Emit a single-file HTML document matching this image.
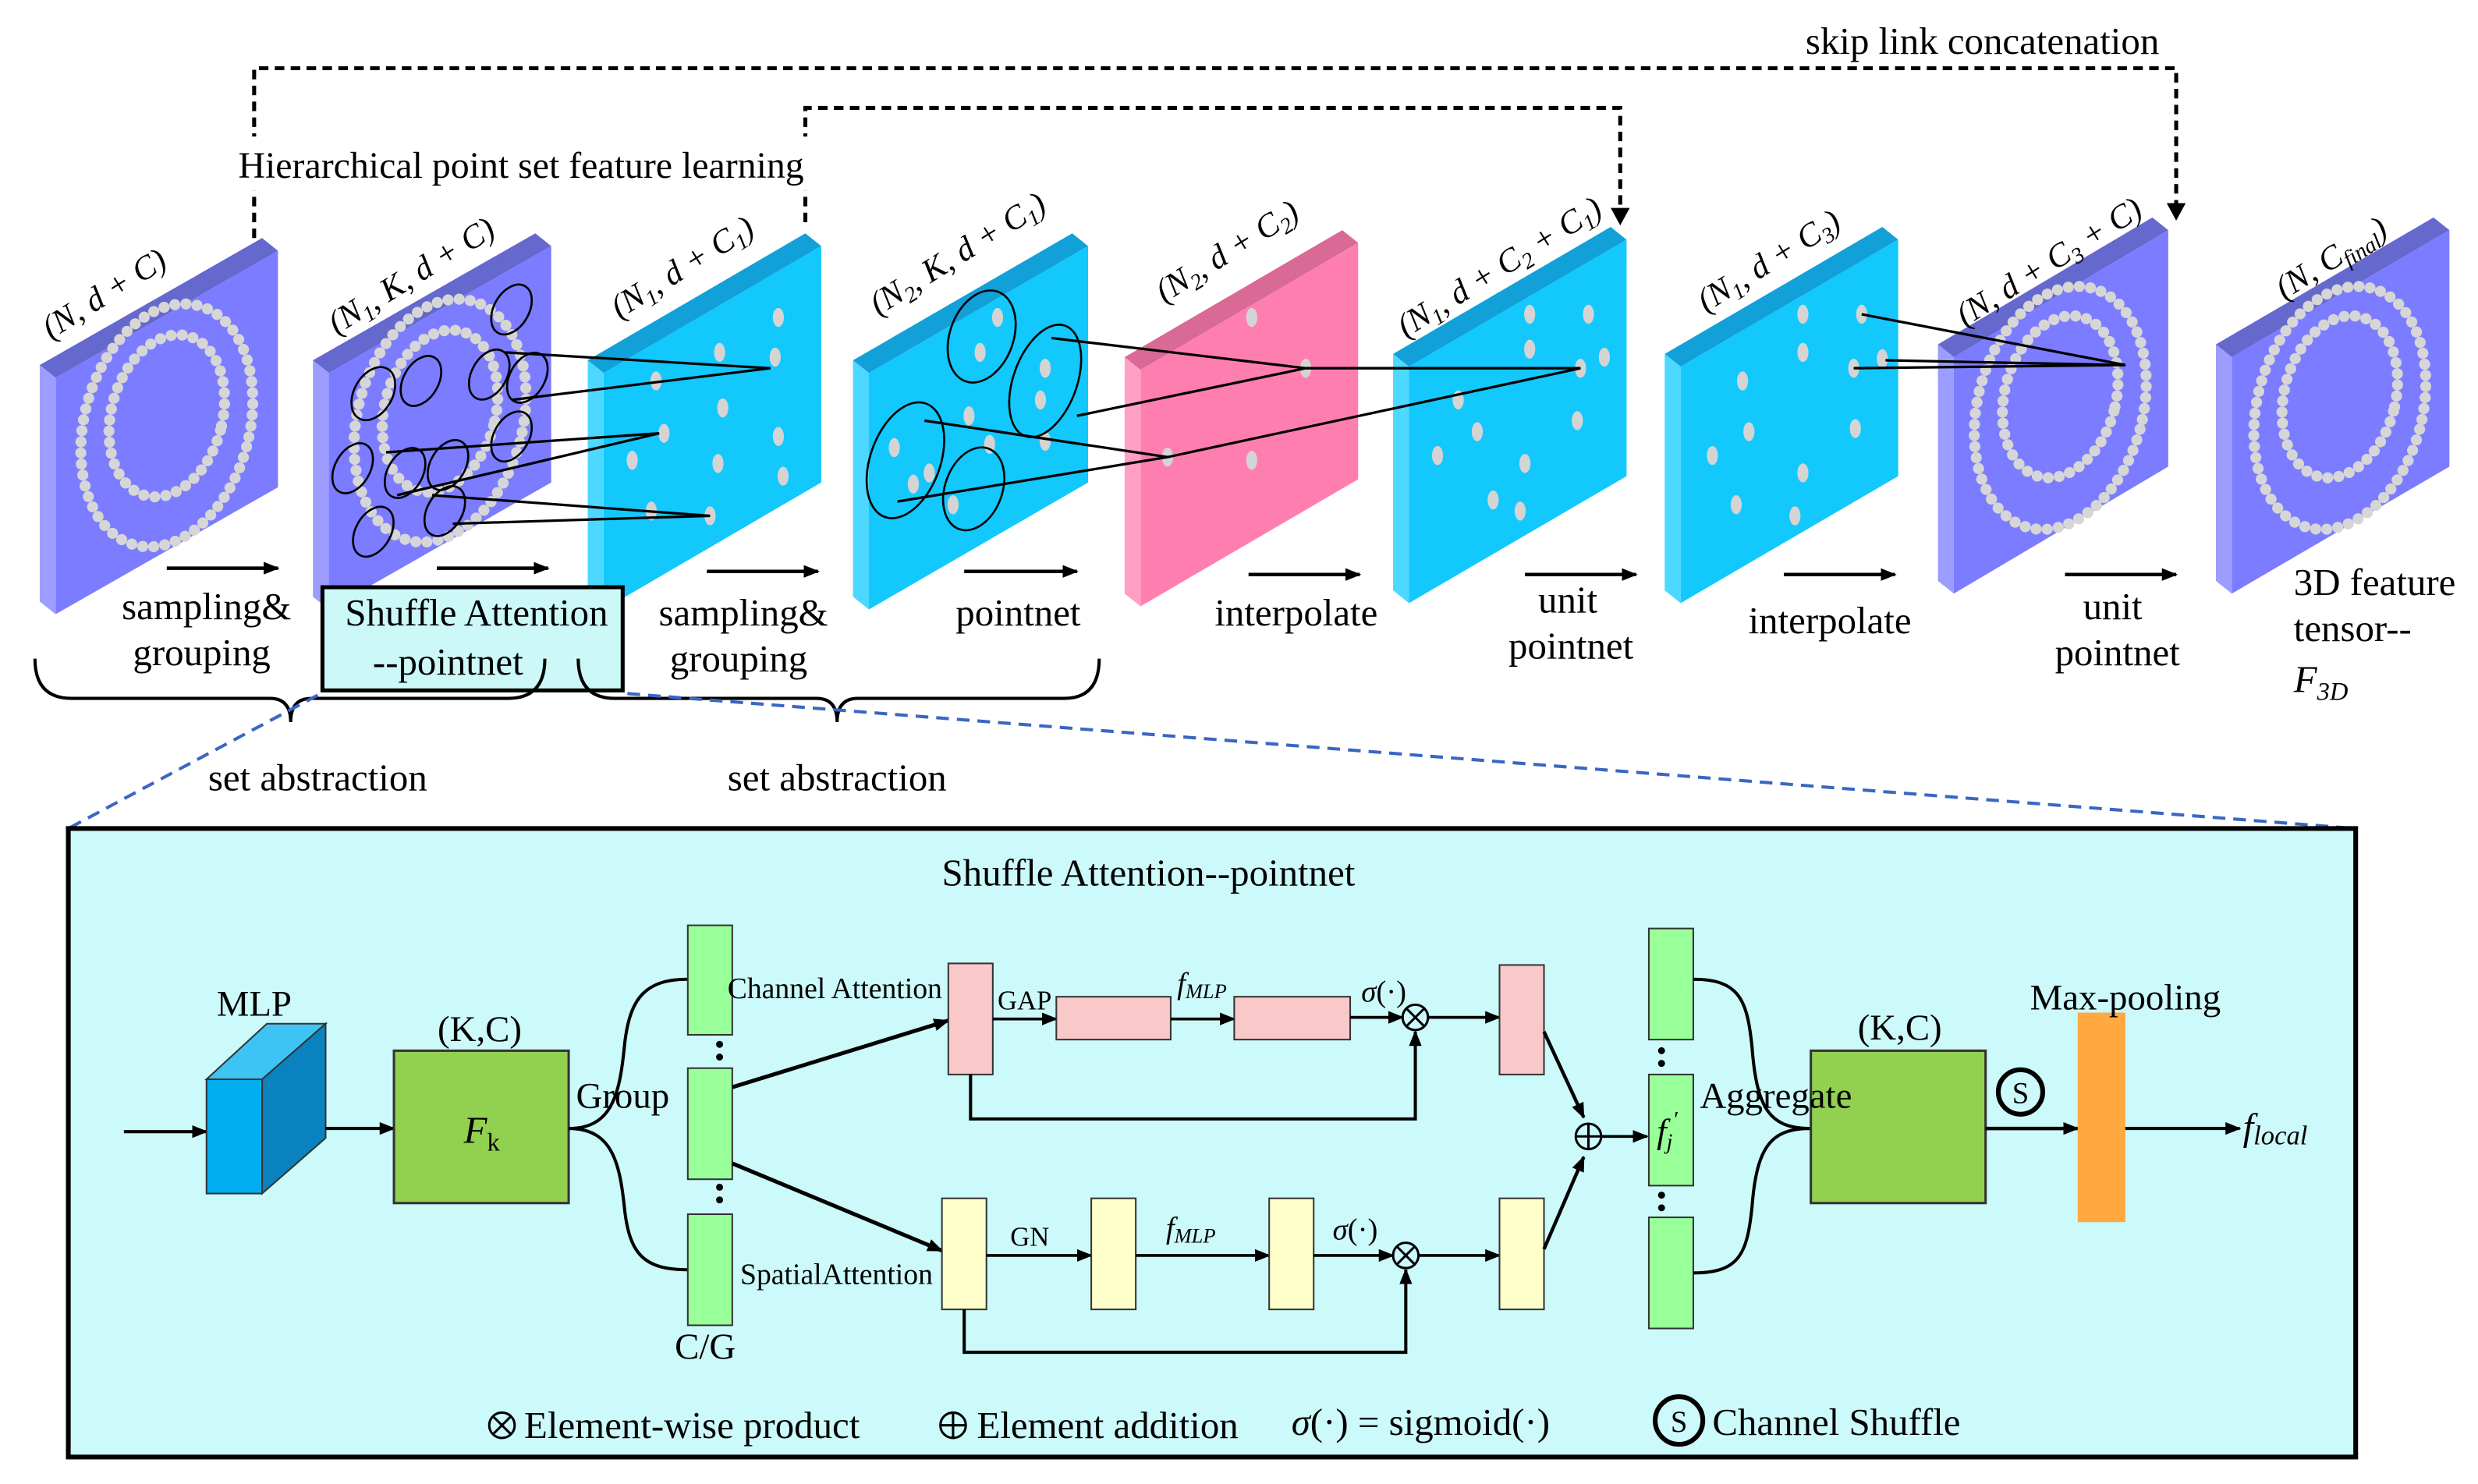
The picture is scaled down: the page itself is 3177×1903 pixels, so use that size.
<!DOCTYPE html>
<html><head><meta charset="utf-8"><style>
html,body{margin:0;padding:0;background:#fff;}
svg{display:block;}
text{font-family:"Liberation Serif",serif;fill:#000;}
.it{font-style:italic;}
</style></head><body>
<svg width="3177" height="1903" viewBox="0 0 1560 935" preserveAspectRatio="none" xmlns="http://www.w3.org/2000/svg">
<defs>
<marker id="ar" markerWidth="10" markerHeight="8" refX="9" refY="4" orient="auto" markerUnits="userSpaceOnUse"><path d="M0,0 L10,4 L0,8 z" fill="#000"/></marker>
</defs>

<!-- skip links -->
<polyline points="160,150 160,43 1370,43 1370,130" fill="none" stroke="#000" stroke-width="2.5" stroke-dasharray="6,4"/>
<path d="M1364,128 L1376,128 L1370,139 z"/>
<polyline points="507,140 507,68 1020,68 1020,133" fill="none" stroke="#000" stroke-width="2.5" stroke-dasharray="6,4"/>
<path d="M1014,131 L1026,131 L1020,142 z"/>
<rect x="140" y="86" width="395" height="34" fill="#fff"/>
<text x="1248" y="34" font-size="24" text-anchor="middle">skip link concatenation</text>
<text x="150" y="112" font-size="23.5">Hierarchical  point set feature learning</text>

<!-- panels -->
<g>
<polygon points="25,230 165,150 175,158 35,238" fill="#6568cc"/><polygon points="35,238 175,158 175,307 35,387" fill="#7b7cff"/><polygon points="25,230 35,238 35,387 25,379" fill="#9c9dff"/>
<polygon points="197,227 337,147 347,155 207,235" fill="#6568cc"/><polygon points="207,235 347,155 347,304 207,384" fill="#7b7cff"/><polygon points="197,227 207,235 207,384 197,376" fill="#9c9dff"/>
<polygon points="370,227 507,147 517,155 380,235" fill="#12a0d8"/><polygon points="380,235 517,155 517,304 380,384" fill="#12c8fc"/><polygon points="370,227 380,235 380,384 370,376" fill="#4dd8ff"/>
<polygon points="537,227 675,147 685,155 547,235" fill="#12a0d8"/><polygon points="547,235 685,155 685,304 547,384" fill="#12c8fc"/><polygon points="537,227 547,235 547,384 537,376" fill="#4dd8ff"/>
<polygon points="708,225 845,145 855,153 718,233" fill="#d96a95"/><polygon points="718,233 855,153 855,302 718,382" fill="#ff7eb0"/><polygon points="708,225 718,233 718,382 708,374" fill="#ff9fc4"/>
<polygon points="877,223 1014,143 1024,151 887,231" fill="#12a0d8"/><polygon points="887,231 1024,151 1024,300 887,380" fill="#12c8fc"/><polygon points="877,223 887,231 887,380 877,372" fill="#4dd8ff"/>
<polygon points="1048,223 1185,143 1195,151 1058,231" fill="#12a0d8"/><polygon points="1058,231 1195,151 1195,300 1058,380" fill="#12c8fc"/><polygon points="1048,223 1058,231 1058,380 1048,372" fill="#4dd8ff"/>
<polygon points="1220,217 1355,137 1365,145 1230,225" fill="#6568cc"/><polygon points="1230,225 1365,145 1365,294 1230,374" fill="#7b7cff"/><polygon points="1220,217 1230,225 1230,374 1220,366" fill="#9c9dff"/>
<polygon points="1395,217 1532,137 1542,145 1405,225" fill="#6568cc"/><polygon points="1405,225 1542,145 1542,294 1405,374" fill="#7b7cff"/><polygon points="1395,217 1405,225 1405,374 1395,366" fill="#9c9dff"/>
</g>

<!-- rings -->
<g fill="none" stroke="#d6d6d6" stroke-width="7" stroke-dasharray="0 7" stroke-linecap="round">
<ellipse cx="105" cy="268" rx="52" ry="78" transform="rotate(15 105 268)"/><ellipse cx="105" cy="262" rx="35" ry="52" transform="rotate(15 105 262)"/>
<ellipse cx="277" cy="265" rx="52" ry="78" transform="rotate(15 277 265)"/><ellipse cx="277" cy="259" rx="35" ry="52" transform="rotate(15 277 259)"/>
<ellipse cx="1297" cy="257" rx="52" ry="78" transform="rotate(15 1297 257)"/><ellipse cx="1297" cy="250" rx="35" ry="52" transform="rotate(15 1297 250)"/>
<ellipse cx="1473" cy="257" rx="52" ry="78" transform="rotate(15 1473 257)"/><ellipse cx="1473" cy="250" rx="35" ry="52" transform="rotate(15 1473 250)"/>
</g>

<!-- dots -->
<g fill="#d4d4d4">
<ellipse cx="453" cy="222" rx="3.5" ry="6"/><ellipse cx="490" cy="200" rx="3.5" ry="6"/><ellipse cx="488" cy="225" rx="3.5" ry="6"/><ellipse cx="413" cy="240" rx="3.5" ry="6"/><ellipse cx="455" cy="257" rx="3.5" ry="6"/><ellipse cx="418" cy="273" rx="3.5" ry="6"/><ellipse cx="398" cy="290" rx="3.5" ry="6"/><ellipse cx="490" cy="275" rx="3.5" ry="6"/><ellipse cx="452" cy="292" rx="3.5" ry="6"/><ellipse cx="410" cy="322" rx="3.5" ry="6"/><ellipse cx="447" cy="325" rx="3.5" ry="6"/><ellipse cx="493" cy="300" rx="3.5" ry="6"/>
<ellipse cx="628" cy="200" rx="3.5" ry="6"/><ellipse cx="617" cy="222" rx="3.5" ry="6"/><ellipse cx="658" cy="232" rx="3.5" ry="6"/><ellipse cx="655" cy="252" rx="3.5" ry="6"/><ellipse cx="563" cy="282" rx="3.5" ry="6"/><ellipse cx="585" cy="298" rx="3.5" ry="6"/><ellipse cx="623" cy="280" rx="3.5" ry="6"/><ellipse cx="658" cy="278" rx="3.5" ry="6"/><ellipse cx="600" cy="318" rx="3.5" ry="6"/><ellipse cx="575" cy="305" rx="3.5" ry="6"/><ellipse cx="610" cy="262" rx="3.5" ry="6"/>
<ellipse cx="788" cy="200" rx="3.5" ry="6"/><ellipse cx="822" cy="232" rx="3.5" ry="6"/><ellipse cx="735" cy="288" rx="3.5" ry="6"/><ellipse cx="788" cy="290" rx="3.5" ry="6"/>
<ellipse cx="963" cy="198" rx="3.5" ry="6"/><ellipse cx="1000" cy="198" rx="3.5" ry="6"/><ellipse cx="963" cy="220" rx="3.5" ry="6"/><ellipse cx="995" cy="232" rx="3.5" ry="6"/><ellipse cx="1010" cy="225" rx="3.5" ry="6"/><ellipse cx="918" cy="252" rx="3.5" ry="6"/><ellipse cx="930" cy="272" rx="3.5" ry="6"/><ellipse cx="905" cy="287" rx="3.5" ry="6"/><ellipse cx="993" cy="265" rx="3.5" ry="6"/><ellipse cx="960" cy="292" rx="3.5" ry="6"/><ellipse cx="940" cy="315" rx="3.5" ry="6"/><ellipse cx="957" cy="322" rx="3.5" ry="6"/>
<ellipse cx="1135" cy="198" rx="3.5" ry="6"/><ellipse cx="1172" cy="198" rx="3.5" ry="6"/><ellipse cx="1135" cy="222" rx="3.5" ry="6"/><ellipse cx="1167" cy="232" rx="3.5" ry="6"/><ellipse cx="1185" cy="226" rx="3.5" ry="6"/><ellipse cx="1097" cy="240" rx="3.5" ry="6"/><ellipse cx="1101" cy="272" rx="3.5" ry="6"/><ellipse cx="1078" cy="287" rx="3.5" ry="6"/><ellipse cx="1168" cy="270" rx="3.5" ry="6"/><ellipse cx="1135" cy="298" rx="3.5" ry="6"/><ellipse cx="1093" cy="318" rx="3.5" ry="6"/><ellipse cx="1130" cy="325" rx="3.5" ry="6"/>
</g>

<!-- grouping ellipses -->
<g fill="none" stroke="#000" stroke-width="1.3">
<ellipse cx="235" cy="248" rx="12" ry="18" transform="rotate(30 235 248)"/>
<ellipse cx="265" cy="240" rx="11" ry="17" transform="rotate(30 265 240)"/>
<ellipse cx="322" cy="195" rx="11" ry="17" transform="rotate(30 322 195)"/>
<ellipse cx="308" cy="236" rx="11" ry="17" transform="rotate(30 308 236)"/>
<ellipse cx="332" cy="238" rx="11" ry="17" transform="rotate(30 332 238)"/>
<ellipse cx="222" cy="295" rx="11" ry="17" transform="rotate(30 222 295)"/>
<ellipse cx="255" cy="298" rx="11" ry="17" transform="rotate(30 255 298)"/>
<ellipse cx="282" cy="293" rx="11" ry="17" transform="rotate(30 282 293)"/>
<ellipse cx="322" cy="275" rx="11" ry="17" transform="rotate(30 322 275)"/>
<ellipse cx="235" cy="335" rx="11" ry="17" transform="rotate(30 235 335)"/>
<ellipse cx="280" cy="322" rx="11" ry="17" transform="rotate(30 280 322)"/>
<ellipse cx="618" cy="212" rx="20" ry="30" transform="rotate(20 618 212)"/>
<ellipse cx="658" cy="240" rx="20" ry="37" transform="rotate(20 658 240)"/>
<ellipse cx="570" cy="290" rx="22" ry="38" transform="rotate(20 570 290)"/>
<ellipse cx="613" cy="308" rx="18" ry="27" transform="rotate(20 613 308)"/>
</g>
<g stroke="#000" stroke-width="1.6" fill="none">
<line x1="318" y1="222" x2="485" y2="232"/><line x1="322" y1="252" x2="485" y2="232"/>
<line x1="243" y1="285" x2="415" y2="273"/><line x1="250" y1="312" x2="415" y2="273"/>
<line x1="272" y1="312" x2="447" y2="325"/><line x1="285" y1="330" x2="447" y2="325"/>
<line x1="662" y1="213" x2="822" y2="232"/><line x1="678" y1="262" x2="822" y2="232"/>
<line x1="582" y1="265" x2="735" y2="288"/><line x1="565" y1="316" x2="735" y2="288"/>
<line x1="822" y1="232" x2="995" y2="232"/><line x1="735" y1="288" x2="995" y2="232"/>
<line x1="1172" y1="198" x2="1338" y2="230"/><line x1="1167" y1="232" x2="1338" y2="230"/><line x1="1187" y1="227" x2="1338" y2="230"/>
</g>

<!-- panel labels -->
<g font-size="21">
<text class="it" transform="translate(32,214) rotate(-32)">(N, d + C)</text>
<text class="it" transform="translate(212,211) rotate(-32)">(N<tspan font-size="14" dy="4">1</tspan><tspan dy="-4">, K, d + C)</tspan></text>
<text class="it" transform="translate(390,201) rotate(-32)">(N<tspan font-size="14" dy="4">1</tspan><tspan dy="-4">, d + C</tspan><tspan font-size="14" dy="4">1</tspan><tspan dy="-4">)</tspan></text>
<text class="it" transform="translate(553,199) rotate(-32)">(N<tspan font-size="14" dy="4">2</tspan><tspan dy="-4">, K, d + C</tspan><tspan font-size="14" dy="4">1</tspan><tspan dy="-4">)</tspan></text>
<text class="it" transform="translate(733,191) rotate(-32)">(N<tspan font-size="14" dy="4">2</tspan><tspan dy="-4">, d + C</tspan><tspan font-size="14" dy="4">2</tspan><tspan dy="-4">)</tspan></text>
<text class="it" transform="translate(885,213) rotate(-32)">(N<tspan font-size="14" dy="4">1</tspan><tspan dy="-4">, d + C</tspan><tspan font-size="14" dy="4">2</tspan><tspan dy="-4"> + C</tspan><tspan font-size="14" dy="4">1</tspan><tspan dy="-4">)</tspan></text>
<text class="it" transform="translate(1074,197) rotate(-32)">(N<tspan font-size="14" dy="4">1</tspan><tspan dy="-4">, d + C</tspan><tspan font-size="14" dy="4">3</tspan><tspan dy="-4">)</tspan></text>
<text class="it" transform="translate(1237,206) rotate(-32)">(N, d + C<tspan font-size="14" dy="4">3</tspan><tspan dy="-4"> + C)</tspan></text>
<text class="it" transform="translate(1438,189) rotate(-32)">(N, C<tspan font-size="14" dy="4">final</tspan><tspan dy="-4">)</tspan></text>
</g>

<!-- arrows between panels -->
<g stroke="#000" stroke-width="2.2" marker-end="url(#ar)">
<line x1="105" y1="358" x2="175" y2="358"/><line x1="275" y1="358" x2="345" y2="358"/>
<line x1="445" y1="360" x2="515" y2="360"/><line x1="607" y1="360" x2="678" y2="360"/>
<line x1="786" y1="362" x2="856" y2="362"/><line x1="960" y1="362" x2="1030" y2="362"/>
<line x1="1123" y1="362" x2="1193" y2="362"/><line x1="1300" y1="362" x2="1370" y2="362"/>
</g>

<!-- SA box top -->
<rect x="203" y="370" width="189" height="65" fill="#ccf8f8" stroke="#000" stroke-width="2.5"/>

<g font-size="24" text-anchor="middle">
<text x="130" y="390">sampling&amp;</text><text x="127" y="419">grouping</text>
<text x="300" y="394">Shuffle Attention</text><text x="282" y="425">--pointnet</text>
<text x="468" y="394">sampling&amp;</text><text x="465" y="423">grouping</text>
<text x="641" y="394">pointnet</text>
<text x="816" y="394">interpolate</text>
<text x="987" y="386">unit</text><text x="989" y="415">pointnet</text>
<text x="1152" y="399">interpolate</text>
<text x="1330" y="390">unit</text><text x="1333" y="419">pointnet</text>
</g>
<g font-size="24">
<text x="1444" y="375">3D feature</text><text x="1444" y="404">tensor--</text>
<text x="1444" y="436" class="it">F<tspan font-size="16" dy="5">3D</tspan></text>
</g>

<!-- braces -->
<g fill="none" stroke="#000" stroke-width="2">
<path d="M22,415 Q22,440 45,440 L170,440 Q183,440 183,455 Q183,440 196,440 L320,440 Q343,440 343,415"/>
<path d="M364,415 Q364,440 387,440 L514,440 Q527,440 527,455 Q527,440 540,440 L670,440 Q692,440 692,415"/>
</g>
<text x="200" y="498" font-size="24" text-anchor="middle">set abstraction</text>
<text x="527" y="498" font-size="24" text-anchor="middle">set abstraction</text>

<!-- dashed zoom lines -->
<line x1="200" y1="438" x2="43" y2="522" stroke="#3a66c4" stroke-width="2" stroke-dasharray="8,5"/>
<line x1="395" y1="437" x2="1483" y2="522" stroke="#3a66c4" stroke-width="2" stroke-dasharray="8,5"/>

<!-- bottom box -->
<rect x="43" y="522" width="1440" height="396" fill="#ccf9f9" stroke="#000" stroke-width="3"/>
<text x="723" y="558" font-size="24" text-anchor="middle">Shuffle Attention--pointnet</text>

<line x1="78" y1="713" x2="130" y2="713" stroke="#000" stroke-width="2" marker-end="url(#ar)"/>
<!-- MLP cube -->
<polygon points="130,680 168,645 205,645 165,680" fill="#3ec4f4" stroke="#333" stroke-width="1"/>
<polygon points="165,680 205,645 205,717 165,752" fill="#0a82c0" stroke="#333" stroke-width="1"/>
<rect x="130" y="680" width="35" height="72" fill="#00aeef" stroke="#333" stroke-width="1"/>
<text x="160" y="640" font-size="23" text-anchor="middle">MLP</text>
<line x1="205" y1="711" x2="248" y2="711" stroke="#000" stroke-width="2" marker-end="url(#ar)"/>
<rect x="248" y="662" width="110" height="96" fill="#92d050" stroke="#333" stroke-width="1.5"/>
<text x="302" y="656" font-size="23" text-anchor="middle">(K,C)</text>
<text x="292" y="720" font-size="24" class="it">F<tspan font-size="16" dy="5" font-style="normal">k</tspan></text>

<!-- group curves -->
<path d="M358,711 C385,711 390,690 393,660 C396,630 405,617 433,617" fill="none" stroke="#000" stroke-width="2"/>
<path d="M358,711 C385,711 390,732 393,760 C396,790 405,800 433,800" fill="none" stroke="#000" stroke-width="2"/>
<rect x="433" y="583" width="28" height="69" fill="#99ff99" stroke="#333"/>
<rect x="433" y="673" width="28" height="70" fill="#99ff99" stroke="#333"/>
<rect x="433" y="765" width="28" height="70" fill="#99ff99" stroke="#333"/>
<text x="392" y="698" font-size="23" text-anchor="middle">Group</text>
<circle cx="453" cy="658" r="2.2"/><circle cx="453" cy="666" r="2.2"/>
<circle cx="453" cy="748" r="2.2"/><circle cx="453" cy="756" r="2.2"/>
<text x="444" y="856" font-size="23" text-anchor="middle">C/G</text>

<line x1="461" y1="685" x2="597" y2="643" stroke="#000" stroke-width="2.5" marker-end="url(#ar)"/>
<line x1="461" y1="733" x2="593" y2="788" stroke="#000" stroke-width="2.5" marker-end="url(#ar)"/>
<text x="458" y="629" font-size="18.5">Channel Attention</text>
<text x="466" y="809" font-size="18.5">SpatialAttention</text>

<!-- channel branch -->
<rect x="597" y="607" width="28" height="70" fill="#f9c8c8" stroke="#333"/>
<text x="628" y="636" font-size="17">GAP</text>
<line x1="625" y1="642" x2="665" y2="642" stroke="#000" stroke-width="1.8" marker-end="url(#ar)"/>
<rect x="665" y="628" width="72" height="27" fill="#f9c8c8" stroke="#333"/>
<text x="741" y="626" font-size="19" class="it">f<tspan font-size="13" dy="3">MLP</tspan></text>
<line x1="737" y1="642" x2="777" y2="642" stroke="#000" stroke-width="1.8" marker-end="url(#ar)"/>
<rect x="777" y="628" width="73" height="27" fill="#f9c8c8" stroke="#333"/>
<text x="857" y="631" font-size="19"><tspan class="it">σ</tspan>(·)</text>
<line x1="850" y1="641" x2="883" y2="641" stroke="#000" stroke-width="1.8" marker-end="url(#ar)"/>
<circle cx="891" cy="641" r="8" fill="none" stroke="#000" stroke-width="1.5"/>
<path d="M885.5,635.5 L896.5,646.5 M896.5,635.5 L885.5,646.5" stroke="#000" stroke-width="1.5"/>
<polyline points="611,677 611,705 891,705 891,650" fill="none" stroke="#000" stroke-width="2" marker-end="url(#ar)"/>
<line x1="899" y1="641" x2="944" y2="641" stroke="#000" stroke-width="1.8" marker-end="url(#ar)"/>
<rect x="944" y="608" width="28" height="69" fill="#f9c8c8" stroke="#333"/>

<!-- spatial branch -->
<rect x="593" y="755" width="28" height="70" fill="#ffffcc" stroke="#333"/>
<text x="636" y="785" font-size="17">GN</text>
<line x1="621" y1="791" x2="687" y2="791" stroke="#000" stroke-width="1.8" marker-end="url(#ar)"/>
<rect x="687" y="755" width="28" height="70" fill="#ffffcc" stroke="#333"/>
<text x="734" y="780" font-size="19" class="it">f<tspan font-size="13" dy="3">MLP</tspan></text>
<line x1="715" y1="791" x2="799" y2="791" stroke="#000" stroke-width="1.8" marker-end="url(#ar)"/>
<rect x="799" y="755" width="28" height="70" fill="#ffffcc" stroke="#333"/>
<text x="839" y="781" font-size="19"><tspan class="it">σ</tspan>(·)</text>
<line x1="827" y1="791" x2="877" y2="791" stroke="#000" stroke-width="1.8" marker-end="url(#ar)"/>
<circle cx="885" cy="791" r="8" fill="none" stroke="#000" stroke-width="1.5"/>
<path d="M879.5,785.5 L890.5,796.5 M890.5,785.5 L879.5,796.5" stroke="#000" stroke-width="1.5"/>
<polyline points="607,825 607,852 885,852 885,800" fill="none" stroke="#000" stroke-width="2" marker-end="url(#ar)"/>
<line x1="893" y1="791" x2="944" y2="791" stroke="#000" stroke-width="1.8" marker-end="url(#ar)"/>
<rect x="944" y="755" width="28" height="70" fill="#ffffcc" stroke="#333"/>

<!-- add -->
<line x1="972" y1="650" x2="997" y2="704" stroke="#000" stroke-width="2.2" marker-end="url(#ar)"/>
<line x1="972" y1="787" x2="997" y2="729" stroke="#000" stroke-width="2.2" marker-end="url(#ar)"/>
<circle cx="1000" cy="716" r="8" fill="none" stroke="#000" stroke-width="1.5"/>
<path d="M992,716 L1008,716 M1000,708 L1000,724" stroke="#000" stroke-width="1.5"/>
<line x1="1008" y1="716" x2="1037" y2="716" stroke="#000" stroke-width="1.8" marker-end="url(#ar)"/>

<rect x="1038" y="585" width="28" height="70" fill="#99ff99" stroke="#333"/>
<rect x="1038" y="677" width="28" height="70" fill="#99ff99" stroke="#333"/>
<rect x="1038" y="767" width="28" height="70" fill="#99ff99" stroke="#333"/>
<circle cx="1046" cy="662" r="2.2"/><circle cx="1046" cy="670" r="2.2"/>
<circle cx="1046" cy="753" r="2.2"/><circle cx="1046" cy="761" r="2.2"/>
<text x="1043" y="720" font-size="22" class="it">f<tspan font-size="14" dy="4">j</tspan><tspan font-size="14" dy="-14">′</tspan></text>

<path d="M1066,617 C1095,617 1100,630 1103,660 C1106,700 1115,711 1140,711" fill="none" stroke="#000" stroke-width="2"/>
<path d="M1066,802 C1095,802 1100,790 1103,760 C1106,722 1115,711 1140,711" fill="none" stroke="#000" stroke-width="2"/>
<rect x="1140" y="662" width="110" height="96" fill="#92d050" stroke="#333" stroke-width="1.5"/>
<text x="1118" y="698" font-size="23" text-anchor="middle">Aggregate</text>
<text x="1196" y="655" font-size="23" text-anchor="middle">(K,C)</text>
<circle cx="1272" cy="688" r="14" fill="none" stroke="#000" stroke-width="3"/>
<text x="1272" y="695" font-size="19" text-anchor="middle">S</text>
<line x1="1250" y1="711" x2="1308" y2="711" stroke="#000" stroke-width="2.2" marker-end="url(#ar)"/>
<rect x="1308" y="638" width="30" height="132" fill="#ffa940"/>
<text x="1338" y="636" font-size="23" text-anchor="middle">Max-pooling</text>
<line x1="1338" y1="711" x2="1410" y2="711" stroke="#000" stroke-width="2" marker-end="url(#ar)"/>
<text x="1412" y="718" font-size="24" class="it">f<tspan font-size="17" dy="3">local</tspan></text>

<!-- legend -->
<g font-size="24">
<circle cx="316" cy="898" r="8" fill="none" stroke="#000" stroke-width="1.5"/>
<path d="M310.5,892.5 L321.5,903.5 M321.5,892.5 L310.5,903.5" stroke="#000" stroke-width="1.5"/>
<text x="330" y="906">Element-wise product</text>
<circle cx="600" cy="898" r="8" fill="none" stroke="#000" stroke-width="1.5"/>
<path d="M592,898 L608,898 M600,890 L600,906" stroke="#000" stroke-width="1.5"/>
<text x="615" y="906">Element addition</text>
<text x="813" y="904"><tspan class="it">σ</tspan>(·) = sigmoid(·)</text>
<circle cx="1057" cy="895" r="15" fill="none" stroke="#000" stroke-width="3"/>
<text x="1057" y="902" font-size="19" text-anchor="middle">S</text>
<text x="1078" y="904">Channel Shuffle</text>
</g>
</svg>
</body></html>
